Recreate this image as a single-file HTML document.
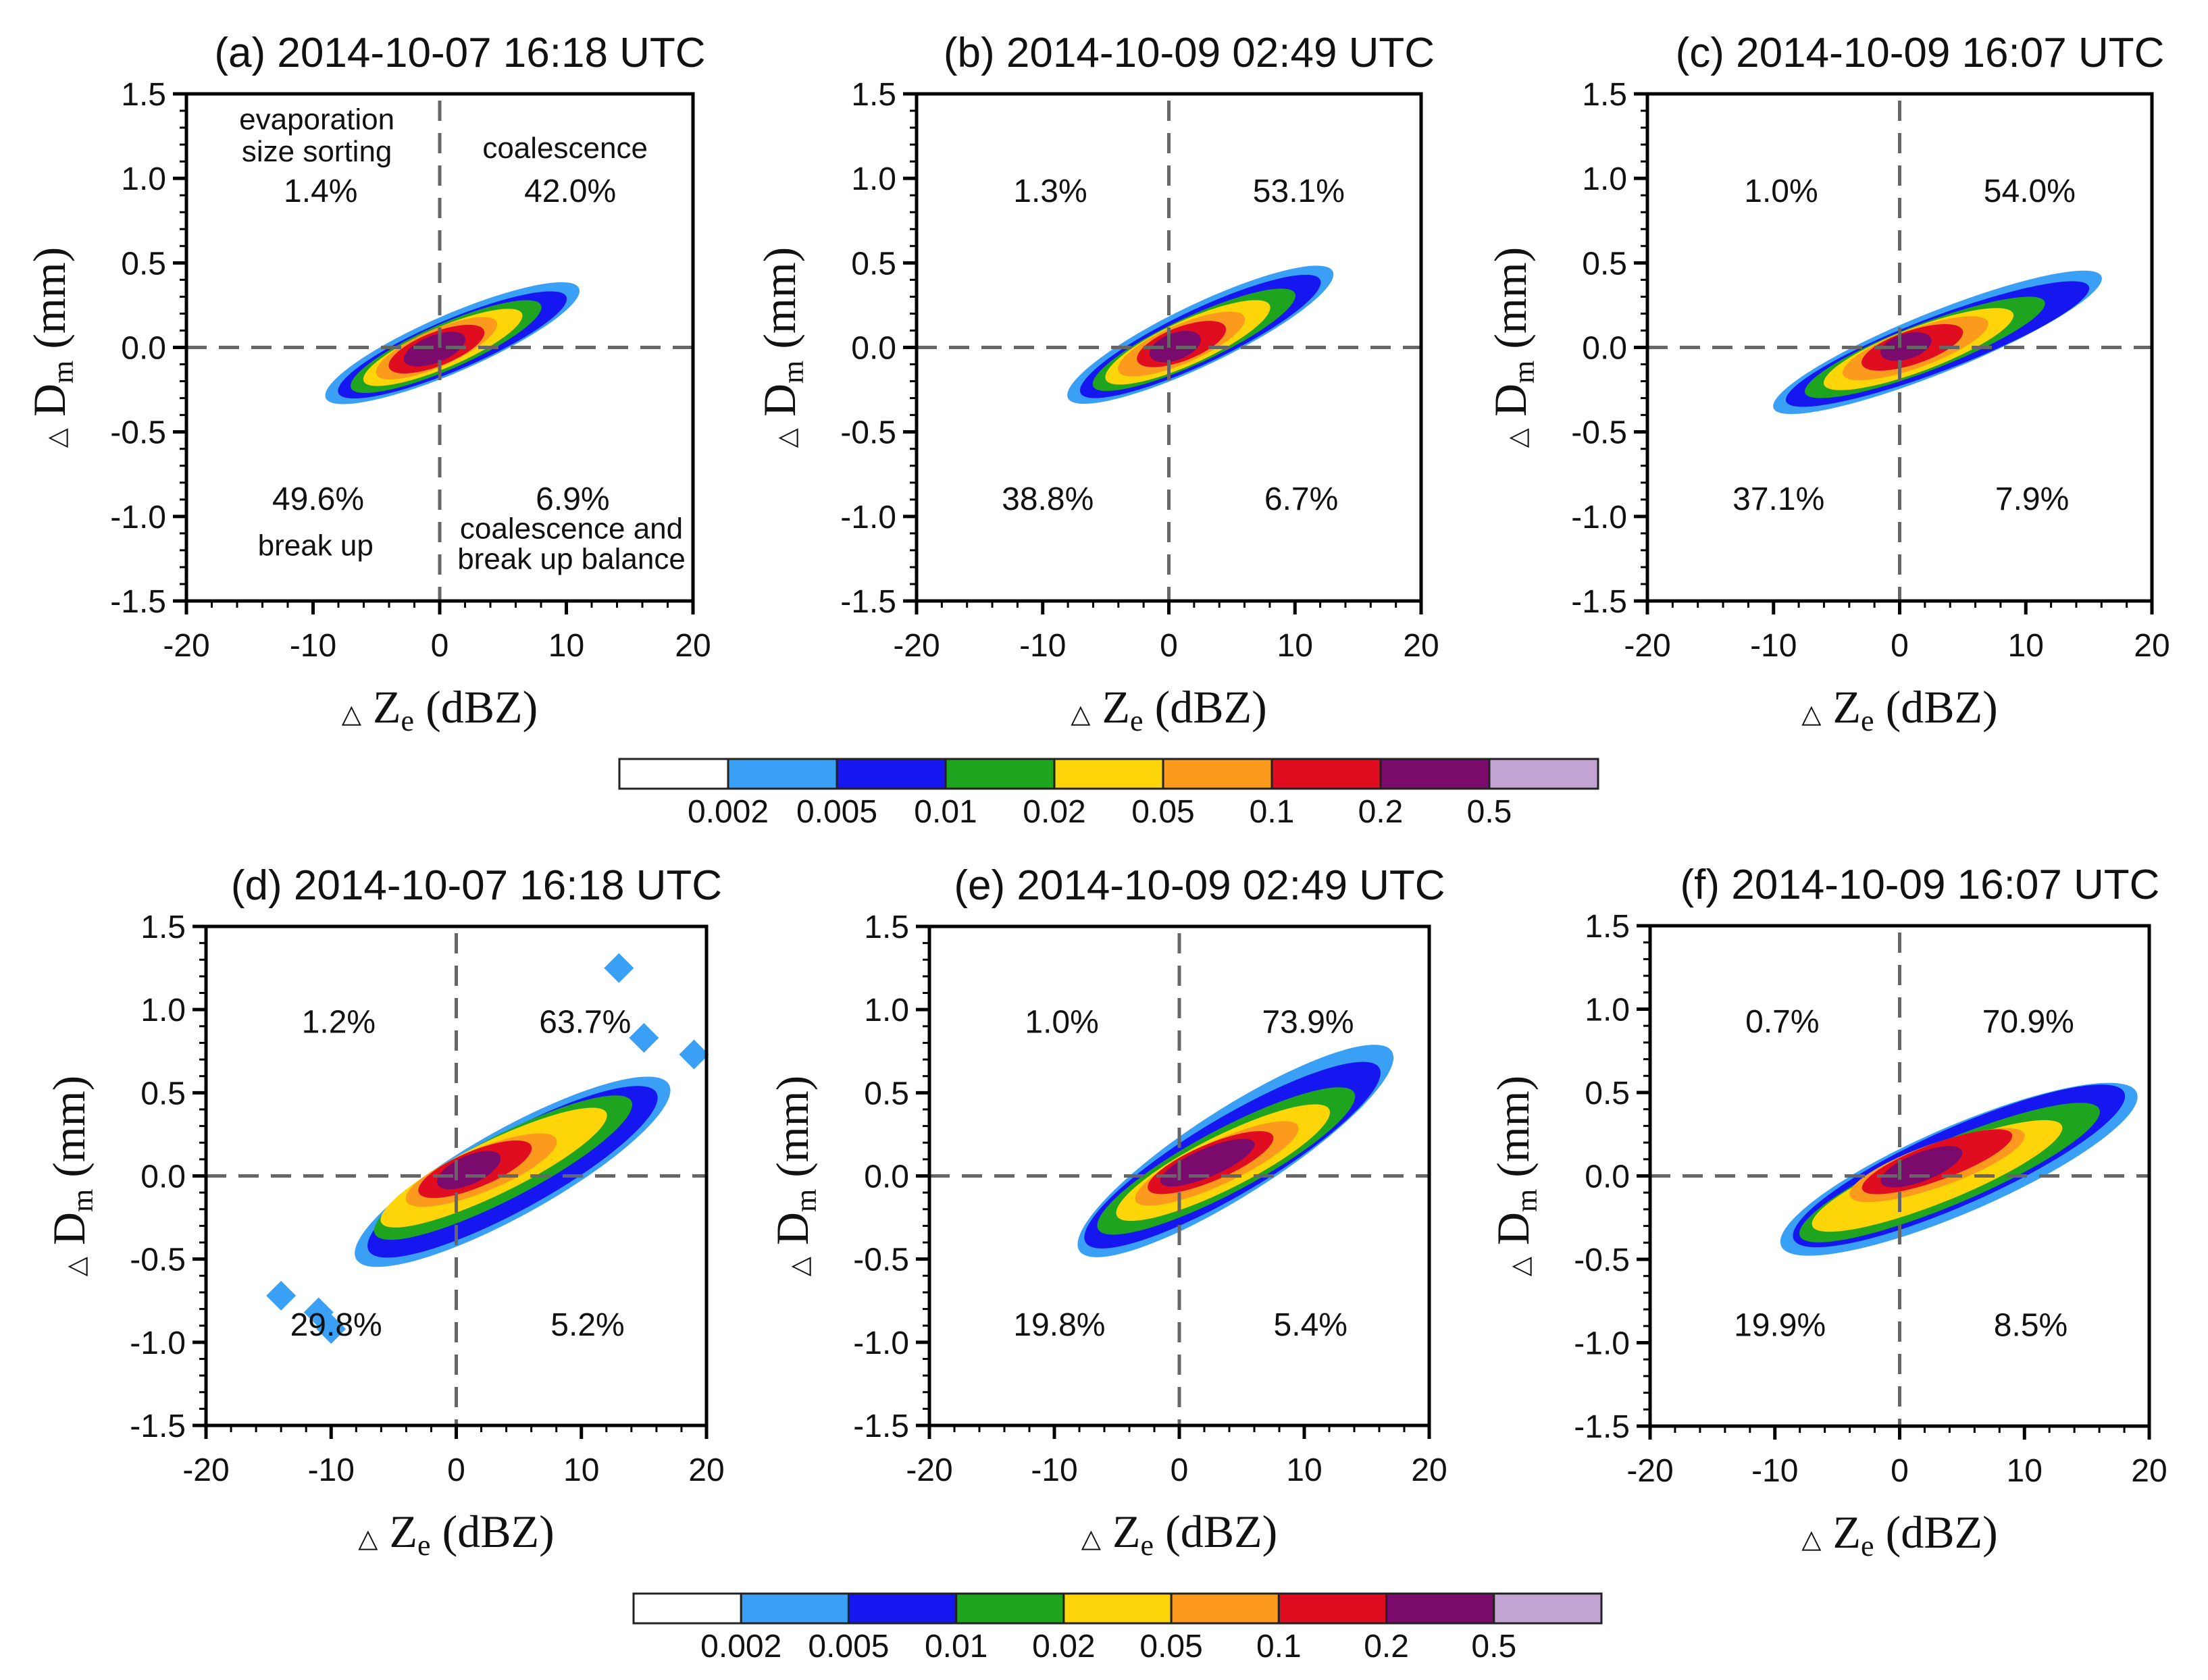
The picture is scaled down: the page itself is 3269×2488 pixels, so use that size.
<!DOCTYPE html>
<html><head><meta charset="utf-8">
<style>
html,body{margin:0;padding:0;background:#fff;}
svg{display:block;}
text{font-family:"Liberation Sans",sans-serif;fill:#111;}
.serif{font-family:"Liberation Serif",serif;}
</style></head>
<body>
<svg id="fig" xmlns="http://www.w3.org/2000/svg" width="3269" height="2488" viewBox="0 0 3269 2488"></svg>
<script>
// ---- data ----
const levelColors = ["#3aa0f5","#1616f0","#1fa41f","#fdd508","#fb9a1c","#e00c20","#7a0a6c"];
const barColors = ["#ffffff","#3aa0f5","#1616f0","#1fa41f","#fdd508","#fb9a1c","#e00c20","#7a0a6c","#c3a2d4"];
const barLabels = ["0.002","0.005","0.01","0.02","0.05","0.1","0.2","0.5"];
const xTicks = [-20,-10,0,10,20];
const yTicks = [-1.5,-1.0,-0.5,0.0,0.5,1.0,1.5];
const panelTitles = ["(a) 2014-10-07 16:18 UTC","(b) 2014-10-09 02:49 UTC","(c) 2014-10-09 16:07 UTC","(d) 2014-10-07 16:18 UTC","(e) 2014-10-09 02:49 UTC","(f) 2014-10-09 16:07 UTC"];
const pctUL = ["1.4%","1.3%","1.0%","1.2%","1.0%","0.7%"];
const pctUR = ["42.0%","53.1%","54.0%","63.7%","73.9%","70.9%"];
const pctLL = ["49.6%","38.8%","37.1%","29.8%","19.8%","19.9%"];
const pctLR = ["6.9%","6.7%","7.9%","5.2%","5.4%","8.5%"];
// contour levels per panel: major-axis endpoints (dBZ, mm) and half-width (mm)
const ax0 = [[-9,-8,-7,-6,-5,-4,-2.8],[-8,-7,-6,-5,-4,-2.5,-1.5],[-10,-9,-7.5,-6,-4.5,-3,-1.5],[-8,-7,-6.5,-6,-4,-3,-1.5],[-8,-7.5,-6.5,-5,-3.5,-2.5,-1.5],[-9.5,-8.5,-8,-7,-4,-3,-1.5]];
const ay0 = [[-0.3,-0.27,-0.24,-0.2,-0.16,-0.12,-0.08],[-0.3,-0.27,-0.23,-0.19,-0.14,-0.08,-0.05],[-0.36,-0.32,-0.27,-0.22,-0.16,-0.1,-0.04],[-0.5,-0.45,-0.35,-0.28,-0.15,-0.1,-0.05],[-0.45,-0.4,-0.32,-0.24,-0.15,-0.08,-0.04],[-0.42,-0.38,-0.36,-0.3,-0.12,-0.08,-0.04]];
const ax1 = [[11,10,8,6.5,4.5,3.5,2],[13,12,10,8,6,4.5,2.5],[16,15,11.5,9,7,5,2.5],[17,16,14,12,8,6,3.5],[17,16,14,12,9.5,7.5,6],[19,18,16,13,10,9,5]];
const ay1 = [[0.35,0.3,0.25,0.2,0.15,0.1,0.06],[0.45,0.4,0.32,0.25,0.18,0.12,0.06],[0.42,0.36,0.27,0.2,0.15,0.1,0.05],[0.55,0.5,0.45,0.38,0.22,0.18,0.12],[0.75,0.65,0.5,0.4,0.3,0.24,0.2],[0.5,0.5,0.4,0.3,0.25,0.25,0.15]];
const aw = [[0.17,0.15,0.135,0.12,0.11,0.1,0.08],[0.18,0.16,0.14,0.13,0.115,0.1,0.08],[0.18,0.16,0.14,0.13,0.115,0.1,0.075],[0.26,0.23,0.19,0.16,0.13,0.11,0.085],[0.26,0.23,0.19,0.16,0.13,0.11,0.085],[0.26,0.23,0.19,0.16,0.13,0.11,0.085]];
const dotX = [13,15,19,-14,-11,-10];
const dotY = [1.25,0.83,0.73,-0.72,-0.82,-0.92];
// ---- layout ----
const panels = [
 {l:276,r:1026,t:139,b:890},{l:1357,r:2104,t:139,b:890},{l:2439,r:3186,t:139,b:890},
 {l:305,r:1046,t:1372,b:2111},{l:1376,r:2116,t:1372,b:2111},{l:2443,r:3182,t:1371,b:2112}];
const bars=[{l:917,r:2366,t:1124,b:1168,ly:1218},{l:938,r:2371,t:2360,b:2404,ly:2454}];
const NS="http://www.w3.org/2000/svg";
const svg=document.getElementById('fig');
function mk(tag,attrs,parent){const e=document.createElementNS(NS,tag);for(const k in attrs)e.setAttribute(k,attrs[k]);(parent||svg).appendChild(e);return e;}

panels.forEach((p,i)=>{
  const g=mk('g',{});
  
  
  const sx=v=>p.l+(v+20)/40*(p.r-p.l);
  const sy=v=>p.t+(1.5-v)/3*(p.b-p.t);
  for(let k=0;k<7;k++){
    const x0=sx(ax0[i][k]),y0=sy(ay0[i][k]),x1=sx(ax1[i][k]),y1=sy(ay1[i][k]);
    const cx=(x0+x1)/2,cy=(y0+y1)/2,len=Math.hypot(x1-x0,y1-y0)/2;
    const ang=Math.atan2(y1-y0,x1-x0)*180/Math.PI;
    const ry=aw[i][k]*(p.b-p.t)/3;
    const e=mk('ellipse',{cx:cx,cy:cy,rx:len,ry:ry,transform:`rotate(${ang} ${cx} ${cy})`,fill:levelColors[k]},g);
    
    
  }
  if(i===3){
    dotX.forEach((dx,j)=>{
      const cx=sx(dx),cy=sy(dotY[j]),r=22;
      const d=mk('polygon',{points:`${cx},${cy-r} ${cx+r},${cy} ${cx},${cy+r} ${cx-r},${cy}`,fill:levelColors[0]},g);
      
      
    });
  }
  const h=mk('line',{x1:p.l,x2:p.r,y1:sy(0),y2:sy(0),stroke:'#666',"stroke-width":5,"stroke-dasharray":"30 18"},g);
  
  
  const v=mk('line',{x1:sx(0),x2:sx(0),y1:p.t+10,y2:p.b,stroke:'#666',"stroke-width":5,"stroke-dasharray":"30 18"},g);
  
  
  const fr=mk('rect',{x:p.l,y:p.t,width:p.r-p.l,height:p.b-p.t,fill:'none',stroke:'#000',"stroke-width":5},g);
  
  
  for(let xv=-20;xv<=20;xv+=2){
    const maj=xv%10===0;
    mk('line',{x1:sx(xv),x2:sx(xv),y1:p.b,y2:p.b+(maj?20:10),stroke:'#000',"stroke-width":maj?5:3},g);
  }
  for(let yi=-15;yi<=15;yi++){
    const maj=yi%5===0;
    mk('line',{x1:p.l,x2:p.l-(maj?20:10),y1:sy(yi/10),y2:sy(yi/10),stroke:'#000',"stroke-width":maj?5:3},g);
  }
  xTicks.forEach(xv=>{const t=mk('text',{x:sx(xv),y:p.b+82,"text-anchor":"middle","font-size":48},g);t.textContent=String(xv);
    });
  yTicks.forEach(yv=>{const t=mk('text',{x:p.l-30,y:sy(yv)+17,"text-anchor":"end","font-size":48},g);t.textContent=yv.toFixed(1);
    });
  const tt=mk('text',{x:(p.l+p.r)/2+30,y:p.t-40,"text-anchor":"middle","font-size":62},g);tt.textContent=panelTitles[i];
  
  const xt=mk('text',{x:(p.l+p.r)/2,y:p.b+180,"text-anchor":"middle","font-size":68,class:"serif"},g);
  xt.innerHTML='<tspan font-size="38">△</tspan> Z<tspan font-size="44" dy="12">e</tspan><tspan dy="-12"> (dBZ)</tspan>';
  
  const yc=(p.t+p.b)/2, yx=p.l-180;
  const yt=mk('text',{x:yx,y:yc,"text-anchor":"middle","font-size":68,class:"serif",transform:`rotate(-90 ${yx} ${yc})`},g);
  yt.innerHTML='<tspan font-size="38">△</tspan> D<tspan font-size="44" dy="12">m</tspan><tspan dy="-12"> (mm)</tspan>';
  
  const pc=[[pctUL[i],-9.4,0.86],[pctUR[i],10.3,0.86],[pctLL[i],-9.6,-0.96],[pctLR[i],10.5,-0.96]];
  pc.forEach(q=>{const t=mk('text',{x:sx(q[1]),y:sy(q[2]),"text-anchor":"middle","font-size":48},g);t.textContent=q[0];
    });
  if(i===0){
    const lab=[["evaporation",-9.7,1.29],["size sorting",-9.7,1.1],["coalescence",9.9,1.12],["break up",-9.8,-1.23],["coalescence and",10.4,-1.13],["break up balance",10.4,-1.31]];
    lab.forEach(q=>{const t=mk('text',{x:sx(q[1]),y:sy(q[2]),"text-anchor":"middle","font-size":44},g);t.textContent=q[0];
      });
  }
});
bars.forEach((b,j)=>{
  const g=mk('g',{});
  
  
  const w=(b.r-b.l)/barColors.length;
  barColors.forEach((c,k)=>{const r=mk('rect',{x:b.l+k*w,y:b.t,width:w,height:b.b-b.t,fill:c,stroke:'#222',"stroke-width":3},g);
    });
  barLabels.forEach((s,k)=>{const t=mk('text',{x:b.l+(k+1)*w,y:b.ly,"text-anchor":"middle","font-size":48},g);t.textContent=s;
    });
});
</script>
</body></html>
